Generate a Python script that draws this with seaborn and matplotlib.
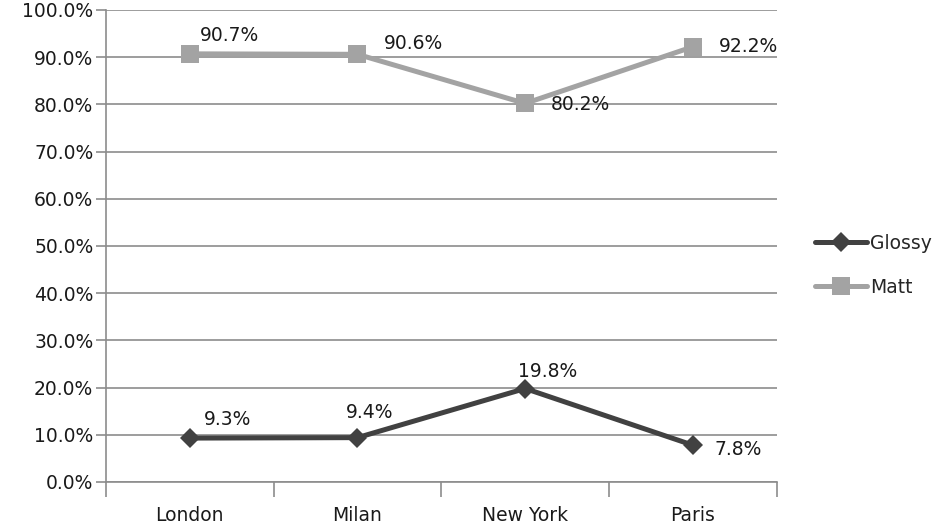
import matplotlib
matplotlib.use("Agg")
import matplotlib.pyplot as plt
import seaborn as sns
import pandas as pd
from matplotlib.ticker import FuncFormatter, FixedLocator

cities = ["London", "Milan", "New York", "Paris"]
glossy = [9.3, 9.4, 19.8, 7.8]
matt = [90.7, 90.6, 80.2, 92.2]
series_names = ["Glossy", "Matt"]

df = pd.DataFrame({
    "city": cities * 2,
    "value": glossy + matt,
    "series": [series_names[0]] * 4 + [series_names[1]] * 4,
})

sns.set_theme(style="white")
plt.rcParams["font.family"] = ["DejaVu Sans"]

fig = plt.figure(figsize=(9.45, 5.23), dpi=100)
ax = fig.add_axes([0.112, 0.0784, 0.710, 0.9026])

colors = {"Glossy": "#414141", "Matt": "#a3a3a3"}
markers = {"Glossy": "D", "Matt": "s"}
sizes_m = {"Glossy": 10, "Matt": 13}

ax.set_xlim(-0.5, 3.5)
ax.set_ylim(0, 100)
for gl in range(0, 101, 10):
    ax.axhline(gl, color="#8c8c8c", lw=1.2, zorder=0)

for name in series_names:
    sub = df[df.series == name]
    sns.lineplot(data=sub, x="city", y="value", ax=ax, color=colors[name],
                 lw=3.6, marker=markers[name], markersize=sizes_m[name],
                 markeredgewidth=0, label=name, zorder=3)

offsets = {
    ("Matt", 0): (10, 18), ("Matt", 1): (26, 11), ("Matt", 2): (26, -1), ("Matt", 3): (26, 0),
    ("Glossy", 0): (14, 19), ("Glossy", 1): (-12, 25), ("Glossy", 2): (-7, 17), ("Glossy", 3): (22, -4),
}
for name, vals in (("Glossy", glossy), ("Matt", matt)):
    for i, v in enumerate(vals):
        dx, dy = offsets[(name, i)]
        ax.annotate(f"{v:.1f}%", (i, v), xytext=(dx, dy), textcoords="offset pixels",
                    ha="left", va="center", fontsize=13.5, color="#1a1a1a")

ax.yaxis.set_major_locator(FixedLocator(list(range(0, 101, 10))))
ax.yaxis.set_major_formatter(FuncFormatter(lambda v, p: f"{v:.1f}%"))
ax.set_xticks(range(4))
ax.set_xticklabels(cities)
ax.xaxis.set_minor_locator(FixedLocator([-0.5, 0.5, 1.5, 2.5, 3.5]))
ax.tick_params(axis="x", which="major", length=0, pad=17, labelsize=13.5, colors="#1a1a1a")
ax.tick_params(axis="x", which="minor", bottom=True, length=11, width=1.2, color="#8c8c8c")
ax.tick_params(axis="y", left=True, length=7, width=1.2, color="#8c8c8c", labelsize=13.5, labelcolor="#1a1a1a", pad=2)
ax.set_xlabel("")
ax.set_ylabel("")
for s in ["top", "right"]:
    ax.spines[s].set_visible(False)
for s in ["left", "bottom"]:
    ax.spines[s].set_color("#8c8c8c")
    ax.spines[s].set_linewidth(1.2)

if ax.legend_:
    ax.legend_.remove()
handles, labels = ax.get_legend_handles_labels()
fig.legend(handles, labels, loc="center left", bbox_to_anchor=(0.855, 0.493),
           frameon=False, fontsize=13.5, labelspacing=1.35, handlelength=2.75,
           handletextpad=0.15, borderaxespad=0)

fig.savefig("out.png", dpi=100)
